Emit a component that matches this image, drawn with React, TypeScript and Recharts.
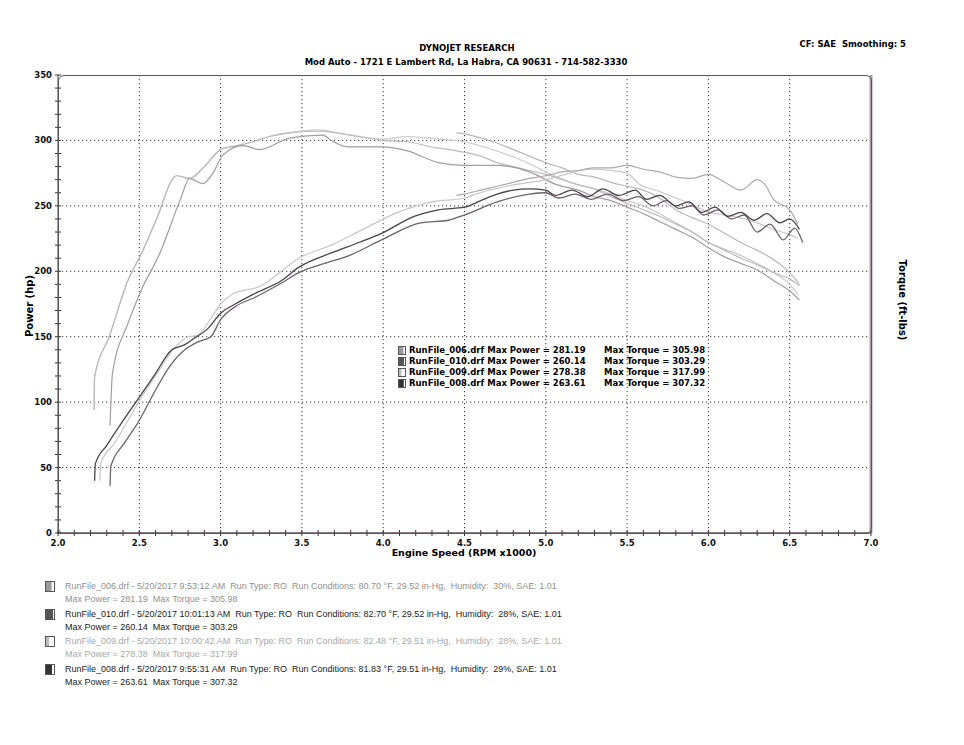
import React from 'react';
import { LineChart, Line, XAxis, YAxis, CartesianGrid } from 'recharts';

// run summary (legend text)
const runNames = ['RunFile_006', 'RunFile_010', 'RunFile_009', 'RunFile_008'];
const runTimes = ['5/20/2017 9:53:12 AM', '5/20/2017 10:01:13 AM', '5/20/2017 10:00:42 AM', '5/20/2017 9:55:31 AM'];
const runTemps = ['80.70', '82.70', '82.48', '81.83'];
const runBaro = ['29.52', '29.52', '29.51', '29.51'];
const runHumidity = ['30%', '28%', '28%', '29%'];
const maxPower = ['281.19', '260.14', '278.38', '263.61'];
const maxTorque = ['305.98', '303.29', '317.99', '307.32'];

// power curves (hp)
const p008Rpm = [2.225, 2.23, 2.3, 2.39, 2.49, 2.59, 2.7, 2.78, 2.84, 2.92, 3.0, 3.09, 3.21, 3.375, 3.48, 3.68, 3.85, 3.99, 4.19, 4.34, 4.5, 4.6, 4.7, 4.8, 4.9, 5.0, 5.06, 5.16, 5.26, 5.35, 5.45, 5.55, 5.62, 5.7, 5.8, 5.88, 5.96, 6.04, 6.12, 6.2, 6.28, 6.36, 6.44, 6.5, 6.56];
const p008Hp = [40, 53, 67, 84, 102, 120, 140, 144, 149, 156, 168, 175, 183, 193, 203, 214, 222, 229, 242, 247, 249, 254, 259, 262, 263, 262, 258, 262, 257, 263, 258, 262, 255, 258, 250, 253, 245, 249, 242, 245, 239, 244, 237, 240, 232];

const p010Rpm = [2.32, 2.325, 2.41, 2.5, 2.59, 2.685, 2.78, 2.86, 2.94, 3.0, 3.09, 3.21, 3.375, 3.48, 3.64, 3.79, 3.99, 4.23, 4.4, 4.5, 4.7, 4.9, 5.0, 5.08, 5.18, 5.28, 5.38, 5.48, 5.57, 5.66, 5.74, 5.82, 5.9, 5.97, 6.06, 6.14, 6.22, 6.3, 6.38, 6.46, 6.53, 6.58];
const p010Hp = [36, 51, 69, 86, 107, 127, 140, 146, 150, 163, 173, 180, 191, 199, 206, 212, 224, 237, 239, 243, 253, 259, 260, 256, 259, 255, 259, 254, 257, 250, 254, 248, 250, 243, 247, 240, 243, 230, 236, 224, 233, 222];

const p009Rpm = [2.258, 2.262, 2.35, 2.43, 2.51, 2.61, 2.72, 2.8, 2.86, 2.93, 3.0, 3.08, 3.25, 3.3, 3.48, 3.68, 3.89, 4.09, 4.3, 4.5, 4.62, 4.8, 5.0, 5.15, 5.26, 5.4, 5.5, 5.57, 5.7, 5.78, 5.9, 5.98, 6.1, 6.19, 6.3, 6.4, 6.5, 6.55];
const p009Hp = [40, 53, 69, 86, 103, 122, 142, 150, 151, 162, 175, 183, 189, 193, 210, 220, 233, 245, 253, 256, 261, 266, 270, 275, 278, 277, 275, 267, 261, 257, 251, 246, 243, 241, 237, 232, 228, 225];

const p006Rpm = [4.45, 4.5, 4.6, 4.7, 4.8, 4.9, 5.0, 5.1, 5.2, 5.3, 5.4, 5.5, 5.6, 5.7, 5.8, 5.9, 6.0, 6.1, 6.2, 6.3, 6.35, 6.4, 6.5, 6.55];
const p006Hp = [258, 259, 262, 265, 268, 271, 273, 276, 277, 279, 279, 281, 278, 276, 272, 271, 274, 268, 262, 270, 266, 255, 247, 236];

// torque curves (ft-lbs)
const t008Rpm = [2.222, 2.225, 2.315, 2.43, 2.515, 2.6, 2.73, 2.81, 2.9, 3.0, 3.1, 3.2, 3.3, 3.43, 3.6, 3.7, 3.8, 3.9, 4.0, 4.15, 4.3, 4.45, 4.6, 4.7, 4.8, 4.9, 5.0, 5.1, 5.2, 5.3, 5.4, 5.5, 5.6, 5.7, 5.8, 5.9, 6.0, 6.1, 6.2, 6.3, 6.4, 6.5, 6.56];
const t008Tq = [94, 119, 150, 193, 214, 238, 273, 271, 280, 293, 296, 299, 303, 306, 307, 306, 304, 302, 300, 299, 295, 292, 288, 283, 280, 277, 274, 270, 266, 263, 257, 252, 247, 242, 236, 230, 222, 216, 210, 205, 199, 194, 189];

const t009Rpm = [2.222, 2.225, 2.315, 2.43, 2.515, 2.6, 2.73, 2.81, 2.9, 3.0, 3.1, 3.2, 3.3, 3.43, 3.6, 3.75, 3.9, 4.0, 4.15, 4.34, 4.5, 4.62, 4.83, 5.0, 5.07, 5.2, 5.3, 5.4, 5.5, 5.6, 5.7, 5.8, 5.9, 6.0, 6.1, 6.2, 6.3, 6.4, 6.5, 6.55];
const t009Tq = [94, 119, 150, 193, 214, 238, 273, 271, 280, 293, 296, 299, 303, 306, 308, 305, 302, 301, 303, 301, 299, 295, 286, 276, 272, 266, 263, 259, 254, 250, 244, 237, 230, 222, 217, 212, 206, 199, 190, 182];

const t010Rpm = [2.32, 2.335, 2.43, 2.51, 2.627, 2.75, 2.81, 2.89, 2.953, 3.015, 3.138, 3.24, 3.43, 3.63, 3.68, 3.79, 3.99, 4.15, 4.34, 4.5, 4.7, 4.9, 5.07, 5.2, 5.3, 5.4, 5.5, 5.6, 5.7, 5.8, 5.9, 6.0, 6.1, 6.2, 6.3, 6.4, 6.5, 6.56];
const t010Tq = [82, 122, 160, 185, 214, 254, 271, 267, 275, 289, 296, 293, 302, 304, 300, 295, 295, 292, 283, 281, 281, 276, 266, 262, 257, 254, 249, 244, 238, 232, 226, 218, 211, 206, 201, 193, 185, 178];

const t006Rpm = [4.45, 4.5, 4.6, 4.7, 4.8, 4.9, 5.0, 5.1, 5.2, 5.3, 5.4, 5.5, 5.6, 5.7, 5.8, 5.9, 6.0, 6.1, 6.2, 6.3, 6.4, 6.5, 6.56];
const t006Tq = [306, 305, 302, 298, 293, 288, 283, 279, 274, 272, 268, 265, 262, 256, 247, 241, 236, 229, 222, 216, 209, 199, 190];

const rpmTicks = Array.from({ length: 51 }, (_, i) => Math.round((2 + i * 0.1) * 10) / 10);
const powerTicks = Array.from({ length: 36 }, (_, i) => i * 10);
const gridRpm = [2.5, 3, 3.5, 4, 4.5, 5, 5.5, 6, 6.5];
const gridPower = [50, 100, 150, 200, 250, 300];

const pts = (rpm: number[], v: number[]) => rpm.map((r, i) => ({ rpm: r, v: v[i] }));

const series = [
  { key: 't009', data: pts(t009Rpm, t009Tq), color: '#cbc7ca', w: 1.2 },
  { key: 't006', data: pts(t006Rpm, t006Tq), color: '#bdb4ba', w: 1.2 },
  { key: 't008', data: pts(t008Rpm, t008Tq), color: '#beb8bd', w: 1.2 },
  { key: 't010', data: pts(t010Rpm, t010Tq), color: '#a59aa2', w: 1.2 },
  { key: 'p009', data: pts(p009Rpm, p009Hp), color: '#c9c5c8', w: 1.2 },
  { key: 'p006', data: pts(p006Rpm, p006Hp), color: '#b0a6ad', w: 1.2 },
  { key: 'p010', data: pts(p010Rpm, p010Hp), color: '#6f606b', w: 1.3 },
  { key: 'p008', data: pts(p008Rpm, p008Hp), color: '#4a424a', w: 1.3 },
];

const boldFont = '"DejaVu Sans", Verdana, sans-serif';
const plainFont = '"Liberation Sans", Arial, sans-serif';

const LeftTick = (props: any) => {
  const { x, y, payload } = props;
  const ax = x + 6;
  const v = payload.value;
  return (
    <g>
      <line x1={ax - 3} x2={ax + 3} y1={y} y2={y} stroke="#333" strokeWidth={1} />
      {v % 50 === 0 && (
        <text x={ax - 6} y={y + 3} textAnchor="end" fontFamily={boldFont} fontWeight="bold" fontSize={8.5} fill="#111">
          {v}
        </text>
      )}
    </g>
  );
};

const RightTick = (props: any) => {
  const { x, y, payload } = props;
  const ax = x - 6;
  const v = payload.value;
  return (
    <g>
      <line x1={ax - 3} x2={ax + 3} y1={y} y2={y} stroke="#333" strokeWidth={1} />
      {v % 50 === 0 && (
        <text x={ax + 6} y={y + 3} textAnchor="start" fontFamily={boldFont} fontWeight="bold" fontSize={8.5} fill="#111">
          {v}
        </text>
      )}
    </g>
  );
};

const BottomTick = (props: any) => {
  const { x, y, payload } = props;
  const ay = y - 8;
  const v = payload.value;
  const major = Math.abs(v * 2 - Math.round(v * 2)) < 1e-6;
  return (
    <g>
      <line x1={x} x2={x} y1={ay - 3} y2={ay + 3} stroke="#333" strokeWidth={1} />
      {major && (
        <text x={x} y={ay + 12.5} textAnchor="middle" fontFamily={boldFont} fontWeight="bold" fontSize={8.5} fill="#111">
          {v.toFixed(1)}
        </text>
      )}
    </g>
  );
};

const Icon = ({ kind, size }: { kind: number; size: number }) => {
  const w = size;
  const h = size + 1;
  return (
    <svg width={w} height={h} style={{ display: 'block' }}>
      <rect x={0.5} y={0.5} width={w - 1} height={h - 1} fill="#fff" stroke="#555" />
      {kind === 0 && <rect x={1} y={1} width={w * 0.55} height={h - 2} fill="#9a9a9a" />}
      {kind === 1 && <rect x={1} y={1} width={w - 3} height={h - 2} fill="#555" />}
      {kind === 2 && <rect x={1} y={1} width={w * 0.3} height={h - 2} fill="#bbb" />}
      {kind === 3 && <rect x={1} y={1} width={w * 0.6} height={h - 2} fill="#333" />}
    </svg>
  );
};

const abs = (x: number, y: number): React.CSSProperties => ({ position: 'absolute', left: x, top: y, whiteSpace: 'nowrap' });

const bottomColors = ['#8f8f8f', '#222', '#a9a9a9', '#222'];
const bottomRows = [580, 608, 635, 663];
const midRows = [345, 356, 367, 378];

export default function App() {
  return (
    <div style={{ position: 'absolute', left: 0, top: 0, width: 964, height: 745, background: '#fff', overflow: 'hidden' }}>
      <div style={{ ...abs(0, 0) }}>
        <LineChart width={964} height={570} margin={{ top: 75, right: 43, bottom: 7, left: 8 }}>
          <CartesianGrid
            yAxisId="left"
            horizontalValues={gridPower}
            verticalValues={gridRpm}
            stroke="#333"
            strokeDasharray="1.2 2.8"
          />
          <XAxis
            dataKey="rpm"
            type="number"
            domain={[2, 7]}
            ticks={rpmTicks}
            interval={0}
            height={30}
            tickLine={false}
            tickSize={0}
            tickMargin={8}
            tick={<BottomTick />}
            axisLine={{ stroke: '#8e7f8e', strokeWidth: 2 }}
            allowDataOverflow
          />
          <YAxis
            yAxisId="left"
            orientation="left"
            type="number"
            domain={[0, 350]}
            ticks={powerTicks}
            interval={0}
            width={50}
            tickLine={false}
            tickSize={0}
            tickMargin={6}
            tick={<LeftTick />}
            axisLine={{ stroke: '#444' }}
          />
          <YAxis
            yAxisId="right"
            orientation="right"
            type="number"
            domain={[0, 350]}
            ticks={powerTicks}
            interval={0}
            width={50}
            tickLine={false}
            tickSize={0}
            tickMargin={6}
            tick={<RightTick />}
            axisLine={{ stroke: '#ad9bad', strokeWidth: 3 }}
          />
          {series.map((s) => (
            <Line
              key={s.key}
              yAxisId="left"
              data={s.data}
              dataKey="v"
              type="monotone"
              stroke={s.color}
              strokeWidth={s.w}
              dot={false}
              activeDot={false}
              isAnimationActive={false}
            />
          ))}
        </LineChart>
      </div>

      {/* plot frame with rounded corners */}
      <div style={{ position: 'absolute', left: 58, top: 75, width: 812, height: 457, border: '1px solid #555', borderRadius: 6, pointerEvents: 'none' }} />

      {/* header */}
      <div style={{ ...abs(467, 43), transform: 'translateX(-50%)', fontFamily: boldFont, fontWeight: 'bold', fontSize: 8.5 }}>DYNOJET RESEARCH</div>
      <div style={{ ...abs(466, 57), transform: 'translateX(-50%)', fontFamily: boldFont, fontWeight: 'bold', fontSize: 8.5 }}>
        Mod Auto - 1721 E Lambert Rd, La Habra, CA 90631 - 714-582-3330
      </div>
      <div style={{ ...abs(906, 39), transform: 'translateX(-100%)', fontFamily: boldFont, fontWeight: 'bold', fontSize: 8.5 }}>
        CF: SAE&nbsp; Smoothing: 5
      </div>

      {/* axis titles */}
      <div style={{ ...abs(464, 547), transform: 'translateX(-50%)', fontFamily: boldFont, fontWeight: 'bold', fontSize: 9.5, lineHeight: '12px' }}>
        Engine Speed (RPM x1000)
      </div>
      <div style={{ ...abs(29, 306), transform: 'translate(-50%, -50%) rotate(-90deg)', fontFamily: boldFont, fontWeight: 'bold', fontSize: 10 }}>
        Power (hp)
      </div>
      <div style={{ ...abs(902, 300), transform: 'translate(-50%, -50%) rotate(90deg)', fontFamily: boldFont, fontWeight: 'bold', fontSize: 10 }}>
        Torque (ft-lbs)
      </div>

      {/* in-plot summary */}
      {runNames.map((n, i) => (
        <React.Fragment key={n}>
          <div style={{ ...abs(398, midRows[i] + 1) }}>
            <Icon kind={i} size={8} />
          </div>
          <div style={{ ...abs(409, midRows[i]), fontFamily: boldFont, fontWeight: 'bold', fontSize: 8.5, lineHeight: '11px' }}>
            {n}.drf Max Power = {maxPower[i]}
          </div>
          <div style={{ ...abs(604, midRows[i]), fontFamily: boldFont, fontWeight: 'bold', fontSize: 8.5, lineHeight: '11px' }}>
            Max Torque = {maxTorque[i]}
          </div>
        </React.Fragment>
      ))}

      {/* run details legend */}
      {runNames.map((n, i) => (
        <React.Fragment key={n + '-b'}>
          <div style={{ ...abs(45, bottomRows[i] + 1) }}>
            <Icon kind={i} size={10} />
          </div>
          <div style={{ ...abs(65, bottomRows[i]), fontFamily: plainFont, fontSize: 9, lineHeight: '12.5px', color: bottomColors[i] }}>
            <div>
              {n}.drf - {runTimes[i]}&nbsp; Run Type: RO&nbsp; Run Conditions: {runTemps[i]} °F, {runBaro[i]} in-Hg,&nbsp; Humidity:&nbsp; {runHumidity[i]}, SAE: 1.01
            </div>
            <div>
              Max Power = {maxPower[i]}&nbsp; Max Torque = {maxTorque[i]}
            </div>
          </div>
        </React.Fragment>
      ))}
    </div>
  );
}
